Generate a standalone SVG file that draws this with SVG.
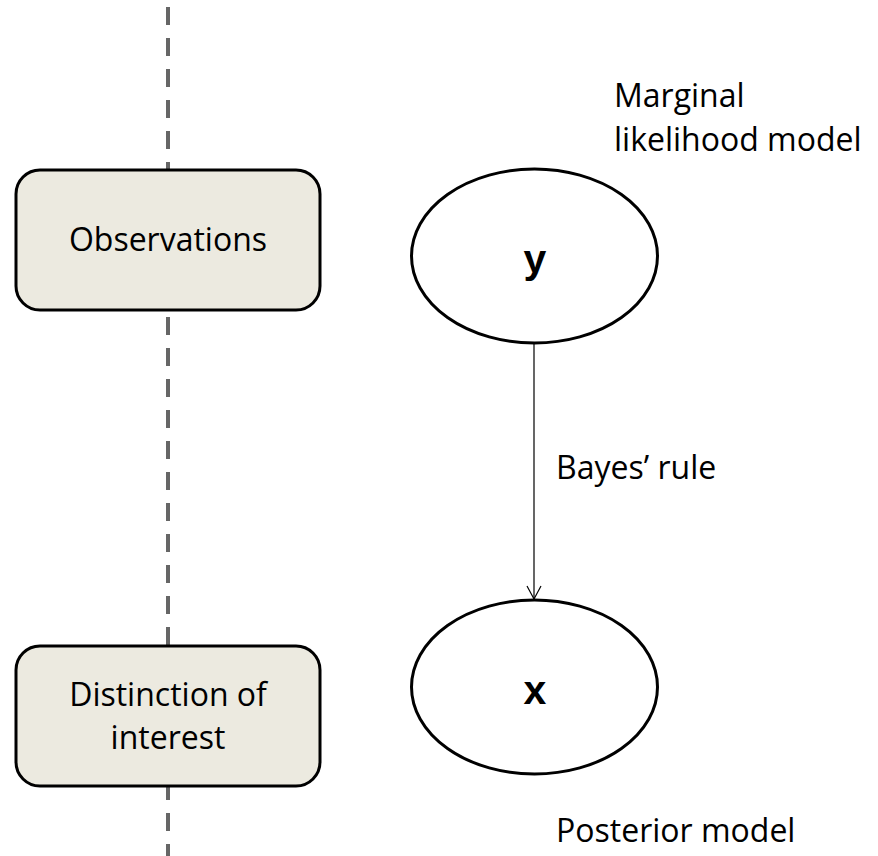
<svg xmlns="http://www.w3.org/2000/svg" width="878" height="856" viewBox="0 0 878 856">
<style>
.box{fill:#ECEAE0;stroke:#000;stroke-width:3}
.ell{fill:#fff;stroke:#000;stroke-width:3}
.t{font-family:"Open Sans","Liberation Sans",sans-serif;font-size:32px;fill:#000}
.b{font-family:"Liberation Sans",sans-serif;font-size:41px;font-weight:bold;fill:#000}
.dash{stroke:#666;stroke-width:4;stroke-dasharray:18 13;fill:none}
.edge{stroke:#000;stroke-width:1.2;fill:none}
</style>
<defs>
<marker id="arr" markerWidth="20" markerHeight="20" refX="14" refY="10" orient="auto" markerUnits="userSpaceOnUse">
<path d="M1,3 L14,10 L1,17" fill="none" stroke="#000" stroke-width="1.2"/>
</marker>
</defs>
<line class="dash" x1="168" y1="7" x2="168" y2="856"/>
<g id="observations">
<rect class="box" x="16" y="170" width="304" height="140" rx="24"/>
<text class="t" x="168" y="251" text-anchor="middle">Observations</text>
</g>
<g id="distinction">
<rect class="box" x="16" y="646" width="304" height="140" rx="24"/>
<text class="t" x="168" y="706" text-anchor="middle">Distinction of</text>
<text class="t" x="168" y="749" text-anchor="middle">interest</text>
</g>
<g id="node-y">
<ellipse class="ell" cx="534.5" cy="256" rx="123" ry="87"/>
<text class="b" x="535" y="273" text-anchor="middle">y</text>
</g>
<g id="node-x">
<ellipse class="ell" cx="534.5" cy="687" rx="123" ry="87"/>
<text class="b" x="535" y="704" text-anchor="middle">x</text>
</g>
<g id="connectors">
<line class="edge" x1="534" y1="344" x2="534" y2="599" marker-end="url(#arr)"/>
</g>
<text class="t" x="614" y="107">Marginal</text>
<text class="t" x="614" y="151">likelihood model</text>
<text class="t" x="556" y="479">Bayes’ rule</text>
<text class="t" x="556" y="842">Posterior model</text>
</svg>
